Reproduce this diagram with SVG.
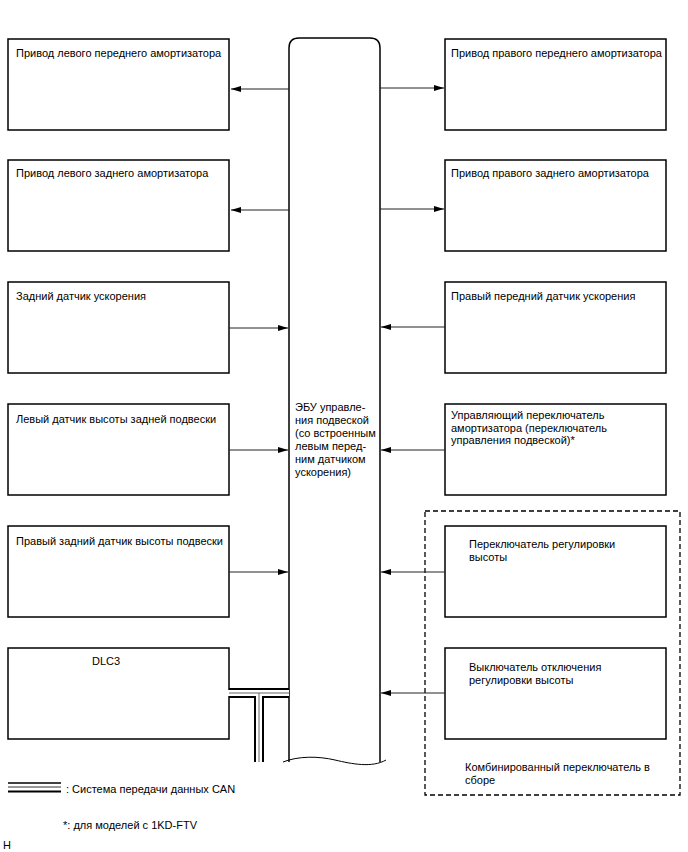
<svg xmlns="http://www.w3.org/2000/svg" width="688" height="852" viewBox="0 0 688 852">
<style>
.box{fill:#fff;stroke:#000;stroke-width:1.5}
.t{font-family:"Liberation Sans",Arial,sans-serif;font-size:11px;fill:#000}
.ln{stroke:#222;stroke-width:1;fill:none}
</style>
<defs>
<marker id="ah" viewBox="0 0 10 6" refX="10" refY="3" markerWidth="10" markerHeight="6" markerUnits="userSpaceOnUse" orient="auto">
<path d="M0,0 L10,3 L0,6 Z" fill="#000"/>
</marker>
</defs>
<rect width="688" height="852" fill="#fff"/>

<g id="ecu">
<path d="M289,762 V48 Q289,38 299,38 H370 Q380,38 380,48 V762" fill="none" stroke="#000" stroke-width="1.5"/>
<path d="M283,762 C298,756 318,756 335,760 S372,768 386,760" fill="none" stroke="#000" stroke-width="1"/>
<text class="t" x="295"><tspan x="295" y="411">ЭБУ управле-</tspan><tspan x="295" y="424">ния подвеской</tspan><tspan x="295" y="437">(со встроенным</tspan><tspan x="295" y="450">левым перед-</tspan><tspan x="295" y="463">ним датчиком</tspan><tspan x="295" y="476">ускорения)</tspan></text>
</g>

<g id="lf"><rect class="box" x="8" y="39" width="221" height="91"/><text class="t" x="16" y="57">Привод левого переднего амортизатора</text></g>
<g id="lr"><rect class="box" x="8" y="160" width="221" height="91"/><text class="t" x="16" y="177">Привод левого заднего амортизатора</text></g>
<g id="racc"><rect class="box" x="8" y="282" width="221" height="91"/><text class="t" x="16" y="300">Задний датчик ускорения</text></g>
<g id="lhs"><rect class="box" x="8" y="404" width="221" height="91"/><text class="t" x="16" y="423">Левый датчик высоты задней подвески</text></g>
<g id="rhs"><rect class="box" x="8" y="526" width="221" height="91"/><text class="t" x="16" y="545">Правый задний датчик высоты подвески</text></g>
<g id="dlc3"><rect class="box" x="8" y="648" width="221" height="91"/><text class="t" x="92" y="665">DLC3</text></g>

<g id="rf"><rect class="box" x="445" y="39" width="221" height="91"/><text class="t" x="451" y="57">Привод правого переднего амортизатора</text></g>
<g id="rr"><rect class="box" x="445" y="160" width="221" height="91"/><text class="t" x="451" y="177">Привод правого заднего амортизатора</text></g>
<g id="fracc"><rect class="box" x="445" y="282" width="221" height="91"/><text class="t" x="451" y="300">Правый передний датчик ускорения</text></g>
<g id="absw"><rect class="box" x="445" y="404" width="221" height="91"/><text class="t"><tspan x="451" y="419">Управляющий переключатель</tspan><tspan x="451" y="431.5">амортизатора (переключатель</tspan><tspan x="451" y="444">управления подвеской)*</tspan></text></g>

<g id="combo">
<rect x="425" y="511" width="255" height="284" fill="none" stroke="#000" stroke-width="1.3" stroke-dasharray="5,3"/>
<text class="t"><tspan x="465" y="771">Комбинированный переключатель в</tspan><tspan x="465" y="784">сборе</tspan></text>
</g>
<g id="hsw"><rect class="box" x="445" y="526" width="221" height="91"/><text class="t"><tspan x="469" y="548">Переключатель регулировки</tspan><tspan x="469" y="561">высоты</tspan></text></g>
<g id="hoff"><rect class="box" x="445" y="648" width="221" height="91"/><text class="t"><tspan x="469" y="671">Выключатель отключения</tspan><tspan x="469" y="684">регулировки высоты</tspan></text></g>

<g id="connectors">
<line class="ln" x1="289" y1="89" x2="231" y2="89" marker-end="url(#ah)"/>
<line class="ln" x1="289" y1="210" x2="231" y2="210" marker-end="url(#ah)"/>
<line class="ln" x1="229" y1="328" x2="288" y2="328" marker-end="url(#ah)"/>
<line class="ln" x1="229" y1="450" x2="288" y2="450" marker-end="url(#ah)"/>
<line class="ln" x1="229" y1="572" x2="288" y2="572" marker-end="url(#ah)"/>
<line class="ln" x1="380" y1="88" x2="444" y2="88" marker-end="url(#ah)"/>
<line class="ln" x1="380" y1="209" x2="444" y2="209" marker-end="url(#ah)"/>
<line class="ln" x1="445" y1="327" x2="381" y2="327" marker-end="url(#ah)"/>
<line class="ln" x1="445" y1="450" x2="381" y2="450" marker-end="url(#ah)"/>
<line class="ln" x1="445" y1="572" x2="381" y2="572" marker-end="url(#ah)"/>
<line class="ln" x1="445" y1="693" x2="381" y2="693" marker-end="url(#ah)"/>
<g id="can">
<path d="M229,693 H289 M259,693 V762" fill="none" stroke="#000" stroke-width="10"/>
<path d="M228,693 H289 M259,693 V763" fill="none" stroke="#fff" stroke-width="6"/>
<path d="M229,693 H289 M259,693 V762" fill="none" stroke="#666" stroke-width="1"/>
</g>
</g>

<g id="legend">
<line x1="8" y1="783" x2="61" y2="783" stroke="#000" stroke-width="1.5"/>
<line x1="8" y1="787" x2="61" y2="787" stroke="#333" stroke-width="1"/>
<line x1="8" y1="791.5" x2="61" y2="791.5" stroke="#000" stroke-width="2"/>
<text class="t" x="66" y="793">: Система передачи данных CAN</text>
<text class="t" x="63" y="829">*: для моделей с 1KD-FTV</text>
<text class="t" x="3" y="849">H</text>
</g>
</svg>
